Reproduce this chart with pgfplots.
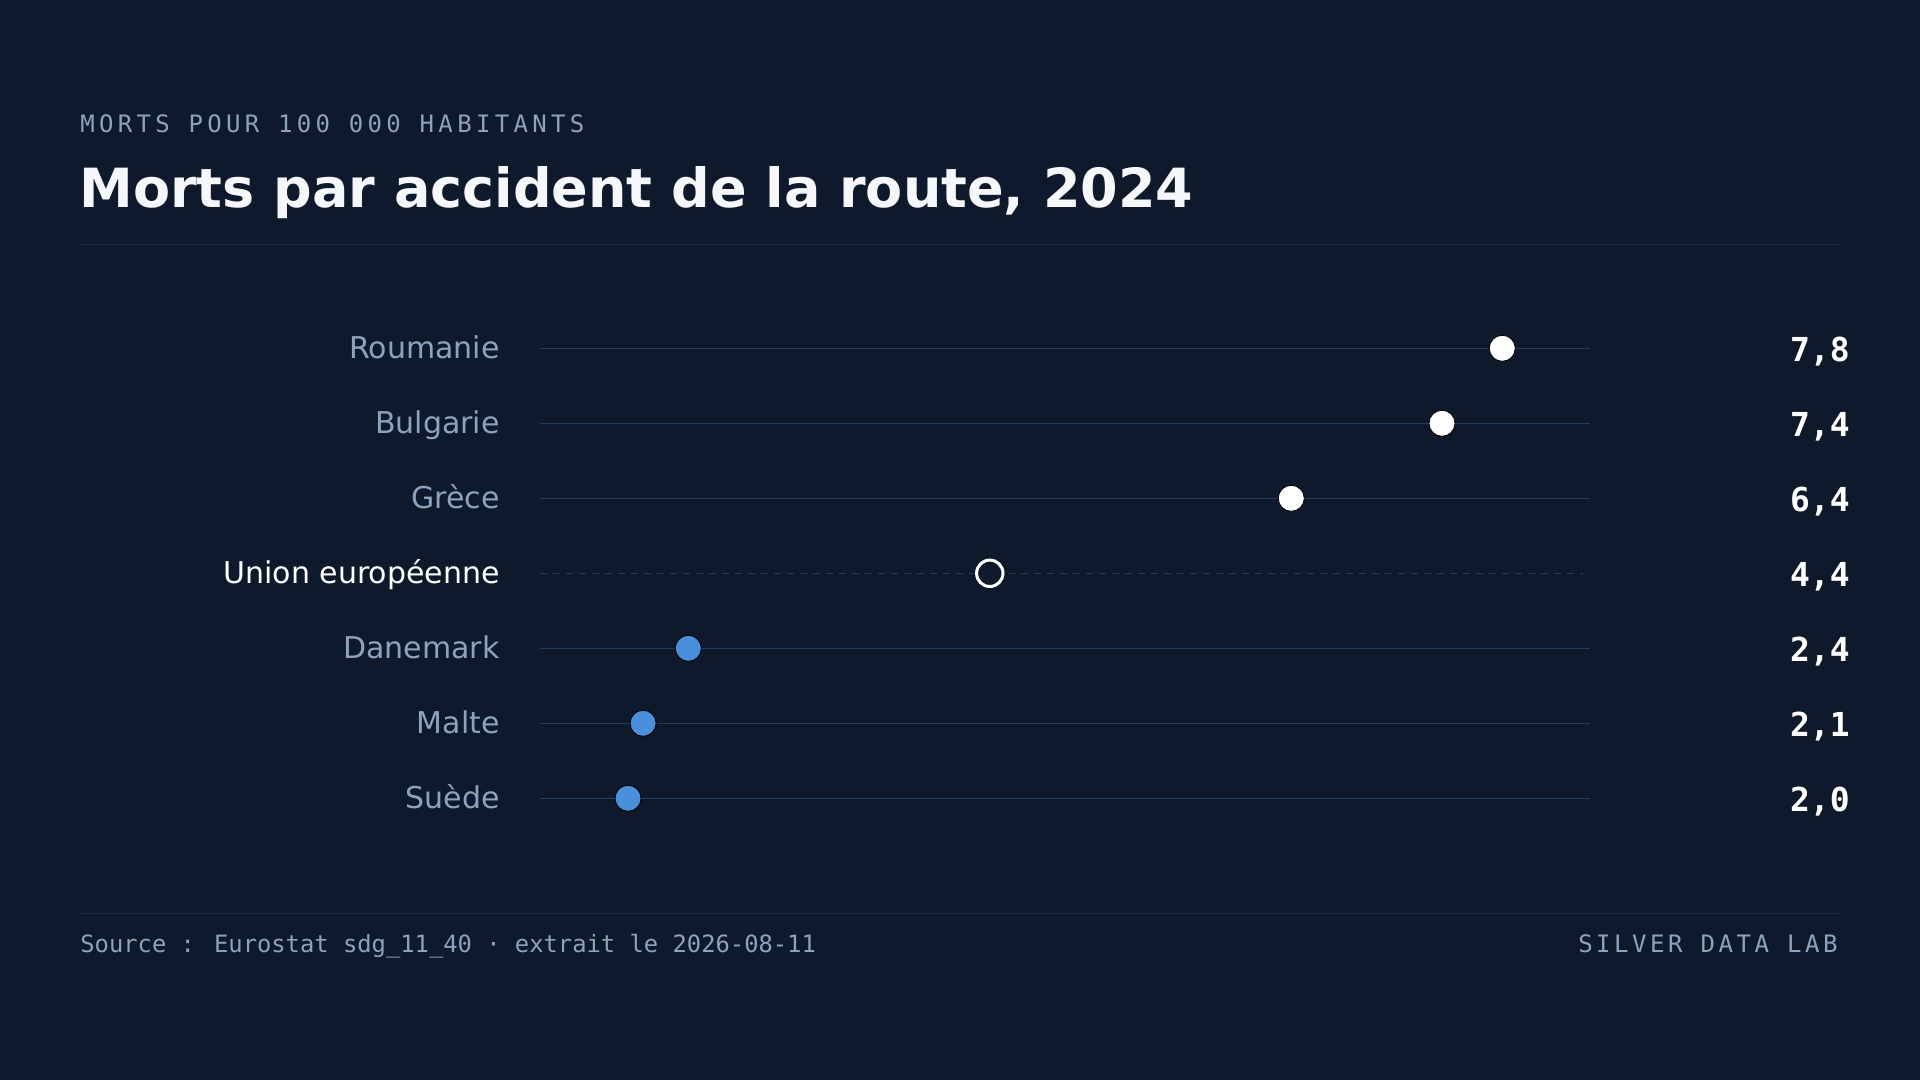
\documentclass[border=0pt]{standalone}
\usepackage{pgfplots}
\pgfplotsset{compat=1.18}
\usepackage{fontspec}
\setmainfont{DejaVu Sans}
\newfontfamily\mono{DejaVu Sans Mono}
\newfontfamily\monosub[LetterSpace=18]{DejaVu Sans Mono}
\newfontfamily\monolab[LetterSpace=14.8]{DejaVu Sans Mono}
\definecolor{bg}{HTML}{0E1A2B}
\definecolor{muted}{HTML}{8DA2BD}
\definecolor{rowline}{HTML}{213C5C}
\definecolor{sep}{HTML}{1A2A3E}
\definecolor{dotblue}{HTML}{4A8FDB}
\definecolor{titlecol}{HTML}{F5F7FA}
\begin{document}
\begin{tikzpicture}[x=0.5pt,y=0.5pt]
\fill[bg] (0,0) rectangle (1920,1080);
\node[anchor=base west, inner sep=0pt, text=muted, font=\fontsize{12pt}{14pt}\monosub] at (80,947.7) {MORTS POUR 100 000 HABITANTS};
\node[anchor=base west, inner sep=0pt, text=titlecol, font=\fontsize{27pt}{30pt}\selectfont\bfseries] at (79,872.5) {Morts par accident de la route, 2024};
\draw[sep, line width=0.75pt] (80,835.7) -- (1840,835.7);
\draw[sep, line width=0.75pt] (80,166.3) -- (1840,166.3);
\node[anchor=base west, inner sep=0pt, text=muted, font=\fontsize{11.9pt}{14pt}\mono] at (80,127.7) {Source : Eurostat sdg\_11\_40 · extrait le 2026-08-11};
\node[anchor=base east, inner sep=0pt, text=muted, font=\fontsize{12pt}{14pt}\monolab] at (1838,127.7) {SILVER DATA LAB};
\begin{axis}[
  at={(270pt,140.85pt)}, anchor=south west,
  scale only axis, width=525pt, height=225pt,
  xmin=1.416, xmax=8.382, ymin=0, ymax=6,
  enlarge x limits=false, enlarge y limits=false, clip=false,
  axis line style={draw=none},
  xtick=\empty, ytick={0,1,2,3,4,5,6},
  yticklabels={Suède,Malte,Danemark,{\color{white}Union européenne},Grèce,Bulgarie,Roumanie},
  major tick length=0pt,
  yticklabel style={font=\fontsize{15pt}{18pt}\selectfont, text=muted, anchor=base east, yshift=-5pt, xshift=-20pt, inner sep=0pt},
]
\addplot[rowline, line width=0.7pt] coordinates {(1.416,6) (8.382,6)};
\addplot[rowline, line width=0.7pt] coordinates {(1.416,5) (8.382,5)};
\addplot[rowline, line width=0.7pt] coordinates {(1.416,4) (8.382,4)};
\addplot[rowline, line width=0.7pt, dash pattern=on 3.5pt off 3pt] coordinates {(1.416,3) (8.333,3)};
\addplot[rowline, line width=0.7pt] coordinates {(1.416,2) (8.382,2)};
\addplot[rowline, line width=0.7pt] coordinates {(1.416,1) (8.382,1)};
\addplot[rowline, line width=0.7pt] coordinates {(1.416,0) (8.382,0)};
\addplot[only marks, mark=*, mark size=6.5pt, mark options={fill=white, draw=none}] coordinates {(7.8,6) (7.4,5) (6.4,4)};
\addplot[only marks, mark=*, mark size=6.5pt, mark options={fill=dotblue, draw=none}] coordinates {(2.4,2) (2.1,1) (2.0,0)};
\addplot[only marks, mark=*, mark size=6.6pt, mark options={fill=bg, draw=white, line width=1.5pt}] coordinates {(4.4,3)};
\addplot[draw=none, mark=none, point meta=explicit,
  nodes near coords={\pgfmathprintnumber[fixed,fixed zerofill,precision=1,use comma,assume math mode=true]{\pgfplotspointmeta}},
  nodes near coords style={anchor=base east, xshift=130pt, yshift=-6.7pt, inner sep=0pt, font=\fontsize{16.5pt}{20pt}\mono\bfseries, text=white}]
  coordinates {(8.382,6) [7.8] (8.382,5) [7.4] (8.382,4) [6.4] (8.382,3) [4.4] (8.382,2) [2.4] (8.382,1) [2.1] (8.382,0) [2.0]};
\end{axis}
\pgfresetboundingbox
\path[use as bounding box] (0,0) rectangle (1920,1080);
\end{tikzpicture}
\end{document}
